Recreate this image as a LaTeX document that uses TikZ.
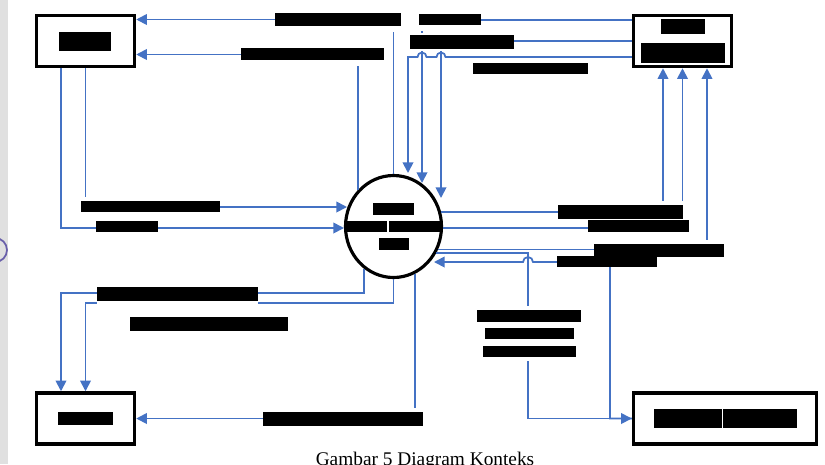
\documentclass[tikz,border=0pt]{standalone}
\usepackage{fontspec}
\setmainfont{Liberation Serif}
\usepackage{tikz}
\usetikzlibrary{arrows.meta, shapes.geometric}
\definecolor{DFDblue}{HTML}{4472C4}
\definecolor{DFDmark}{RGB}{105,95,170}
\colorlet{DFDstrip}{black!12}
\newlength{\pxu}\setlength{\pxu}{0.02cm}
\newcommand{\lblbar}[2]{\rule{#1\pxu}{#2\pxu}}

\begin{document}
\begin{tikzpicture}[x=0.02cm, y=-0.02cm,
    dline/.style={DFDblue, line width=1pt},
    dflow/.style={dline, -{Triangle[length=6pt,width=6pt]}},
    ent/.style={draw, line width=2pt, inner sep=0pt, minimum width=98\pxu, minimum height=51\pxu},
    proc/.style={ellipse, draw, line width=1.8pt, inner sep=0pt, minimum width=96\pxu, minimum height=102\pxu},
    lbl/.style={fill=white, inner xsep=0pt, inner ysep=2pt}]
  \useasboundingbox (0,0) rectangle (825,464);
  \fill[DFDstrip] (0,0) rectangle (8,464);
  \draw[DFDmark, line width=1pt] (-5,250) circle (12);

  % entitas dan proses
  \node[ent] (pel) at (85.5,41) {\lblbar{52}{19}};
  \node[ent] (adm) at (682.5,41) {\shortstack{\lblbar{44}{15}\\[2.6pt]\lblbar{84}{20}}};
  \node[ent] (pim) at (85.5,418.5) {\lblbar{56}{13}};
  \node[ent, minimum width=183\pxu] (bag) at (725,418.5) {\lblbar{68}{19}\hspace{1\pxu}\lblbar{74}{19}};
  \node[proc] (sys) at (393.5,226.5) {\makebox[0pt]{\shortstack{\lblbar{41}{12}\\[0.4pt]\lblbar{40}{11}\hspace{2\pxu}\lblbar{52}{11}\\[0.4pt]\lblbar{30}{12}}}};

  % titik pada tepi proses
  \coordinate (cT4) at (408,173);
  \coordinate (cT2) at (422,183);
  \coordinate (cT3) at (441,198);
  \coordinate (c5) at (358,190);
  \coordinate (cL6) at (347,207);
  \coordinate (cL7) at (344,228);
  \coordinate (cB8) at (364,268.5);
  \coordinate (cB10) at (415,273.5);
  \coordinate (cR11) at (441,212);
  \coordinate (cR12) at (443,228);
  \coordinate (cR13) at (438,249.5);
  \coordinate (cR15) at (436,253);
  \coordinate (cR14) at (434,262);

  % aliran data
  \draw[dflow] (sys.north) -- (sys.north |- 0,19.5) -- (pel.east |- 0,19.5);
  \draw[dflow] (c5) -- (c5 |- 0,54.5) -- (pel.east |- 0,54.5);
  \draw[dflow] (pel.south) |- (cL6);
  \draw[dflow] ([xshift=-24.5\pxu]pel.south) |- (cL7);
  \draw[dflow] ([yshift=21\pxu]adm.west) -| (cT2);
  \draw[dflow] (adm.west) -| (cT3);
  \draw[dflow] ([yshift=-16\pxu]adm.west) -- (445.5,57) arc (0:-180:4.5) -- (426.5,57)
    arc (0:-180:4.5) -- (408,57) -- (cT4);
  \draw[dflow] (cB8) -- (cB8 |- 0,293) -| ([xshift=-24.5\pxu]pim.north);
  \draw[dflow] (sys.south) -- ++(0,24) -| (pim.north);
  \draw[dflow] (cB10) |- (pim.east);
  \draw[dflow] (cR11) -| ([xshift=-19.5\pxu]adm.south);
  \draw[dflow] (cR12) -| (adm.south);
  \draw[dflow] (cR13) -| ([xshift=24.5\pxu]adm.south);
  \draw[dflow] (cR15) -- (528,253) |- (bag.west);
  \draw[dflow] (bag.west) -| (610,262) -- (533,262) arc (0:-180:5) -- (cR14);

  % label aliran (disamarkan)
  \node[lbl, inner ysep=3.4pt] (l1) at (338,19.5) {\lblbar{126}{13}};
  \node[lbl, inner ysep=3.4pt] (l2) at (450,19.5) {\lblbar{62}{11}};
  \node[lbl, inner ysep=1pt] (l3) at (462,42) {\lblbar{104}{14}};
  \node[lbl] (l4) at (530.5,68.5) {\lblbar{115}{11}};
  \node[lbl, inner ysep=3.4pt] (l5) at (312.5,54) {\lblbar{143}{12}};
  \node[lbl] (l6) at (150.5,206.5) {\lblbar{139}{11}};
  \node[lbl] (l7) at (127,226.5) {\lblbar{62}{11}};
  \node[lbl] (l8) at (177.5,294) {\lblbar{161}{14}};
  \node[lbl] (l9) at (209,324) {\lblbar{158}{14}};
  \node[lbl] (l10) at (343,419) {\lblbar{160}{14}};
  \node[lbl] (l11) at (620.5,212) {\lblbar{125}{14}};
  \node[lbl, inner ysep=0pt] (l12) at (638.5,226) {\lblbar{101}{12}};
  \node[lbl] (l13) at (659,250.5) {\lblbar{130}{13}};
  \node[lbl, inner ysep=0pt] (l14) at (607,261.5) {\lblbar{100}{11}};
  \node[lbl] (l15) at (529,333.5) {\shortstack{\lblbar{104}{12}\\[0.4pt]\lblbar{89}{11}\\[1pt]\lblbar{93}{11}}};

  \node[anchor=base, font=\fontsize{11}{13}\selectfont] (cap) at (425,465) {Gambar 5 Diagram Konteks};
\end{tikzpicture}
\end{document}
